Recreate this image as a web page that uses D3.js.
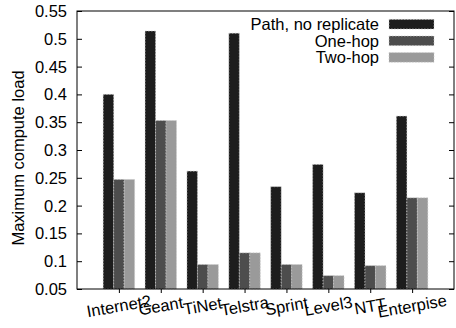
<!DOCTYPE html>
<html><head><meta charset="utf-8">
<script src="https://cdn.jsdelivr.net/npm/d3@7"></script>
<style>
html,body{margin:0;padding:0;background:#fff;}
text{font-family:"Liberation Sans",Arial,Helvetica,sans-serif;}
</style></head>
<body>
<svg id="chart" width="456" height="328"></svg>
<script>
const categories = ["Internet2","Geant","TiNet","Telstra","Sprint","Level3","NTT","Enterpise"];
const seriesNames = ["Path, no replicate","One-hop","Two-hop"];
const pathNoReplicate = [0.400, 0.514, 0.262, 0.510, 0.234, 0.274, 0.223, 0.361];
const oneHop          = [0.247, 0.353, 0.094, 0.115, 0.094, 0.074, 0.092, 0.214];
const twoHop          = [0.247, 0.353, 0.094, 0.115, 0.094, 0.074, 0.092, 0.214];
const yTicks = [0.05,0.1,0.15,0.2,0.25,0.3,0.35,0.4,0.45,0.5,0.55];
const yTickLabels = ["0.05","0.1","0.15","0.2","0.25","0.3","0.35","0.4","0.45","0.5","0.55"];
const colors = ["#1d1d1d","#4d4d4d","#9a9a9a"];

const series = [pathNoReplicate, oneHop, twoHop];
const pL = 77, pR = 454, pT = 11, pB = 289;
const fs = 16.5;
const svg = d3.select("#chart");
const x = d3.scaleLinear().domain([-1, 8]).range([pL, pR]);
const y = d3.scaleLinear().domain([0.05, 0.55]).range([pB, pT]);
const bw = 0.25;

// bars
series.forEach((vals, k) => {
  svg.append("g").selectAll("rect").data(vals).join("rect")
    .attr("x", (d,i) => x(i + (k - 1.5) * bw))
    .attr("width", x(bw) - x(0))
    .attr("y", d => y(d))
    .attr("height", d => y(0.05) - y(d))
    .attr("fill", colors[k])
    .attr("stroke", "#c8c8c8")
    .attr("stroke-width", 0.7)
    .attr("stroke-dasharray", "1.5,1.5");
});

// left axis (inward ticks)
const yAxisL = d3.axisRight(y).tickValues(yTicks).tickSize(5).tickFormat("");
svg.append("g").attr("transform", `translate(${pL},0)`).call(yAxisL)
  .call(g => g.select(".domain").remove())
  .call(g => g.selectAll("line").attr("stroke","#000"));
const yAxisR = d3.axisLeft(y).tickValues(yTicks).tickSize(5).tickFormat("");
svg.append("g").attr("transform", `translate(${pR},0)`).call(yAxisR)
  .call(g => g.select(".domain").remove())
  .call(g => g.selectAll("line").attr("stroke","#000"));
// y tick labels
svg.append("g").selectAll("text").data(yTicks).join("text")
  .attr("x", 67).attr("y", d => y(d)).attr("dy", "0.36em")
  .attr("text-anchor", "end").attr("font-size", fs).attr("fill", "#000")
  .text((d,i) => yTickLabels[i]);

// bottom axis ticks (outward)
const xAxis = d3.axisBottom(x).tickValues(d3.range(categories.length)).tickSize(4).tickFormat("");
svg.append("g").attr("transform", `translate(0,${pB})`).call(xAxis)
  .call(g => g.select(".domain").remove())
  .call(g => g.selectAll("line").attr("stroke","#000"));
// x labels, slightly rotated
svg.append("g").selectAll("text").data(categories).join("text")
  .attr("transform", (d,i) => `translate(${x(i)},${pB + 17}) rotate(-10)`)
  .attr("text-anchor", "middle").attr("dy", "0.35em")
  .attr("font-size", fs).attr("fill", "#000")
  .text(d => d);

// frame
svg.append("rect").attr("x", pL).attr("y", pT)
  .attr("width", pR - pL).attr("height", pB - pT)
  .attr("fill", "none").attr("stroke", "#000").attr("stroke-width", 1);

// y label
svg.append("text").attr("transform", `translate(24,158) rotate(-90)`)
  .attr("text-anchor", "middle").attr("font-size", fs).text("Maximum compute load");

// legend
const leg = svg.append("g");
seriesNames.forEach((name, k) => {
  const cy = 24.2 + k * 16.6;
  leg.append("text").attr("x", 379).attr("y", cy).attr("dy", "0.36em")
    .attr("text-anchor", "end").attr("font-size", fs).text(name);
  leg.append("rect").attr("x", 389).attr("y", cy - 4.8).attr("width", 45).attr("height", 9.6)
    .attr("fill", colors[k]).attr("stroke", "#c8c8c8").attr("stroke-width", 0.7)
    .attr("stroke-dasharray", "1.5,1.5");
});
</script>
</body></html>
